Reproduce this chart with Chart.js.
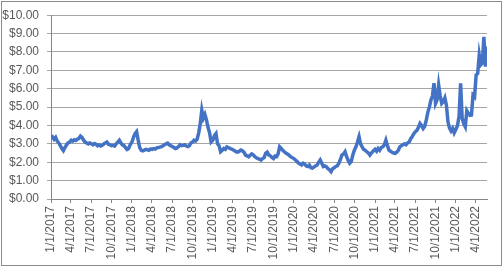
<!DOCTYPE html>
<html>
<head>
<meta charset="utf-8">
<script src="https://cdn.jsdelivr.net/npm/chart.js@4"></script>
<style>
  html, body { margin: 0; padding: 0; background: #fff; }
  #wrap { position: relative; width: 504px; height: 268px; }
  #frame { position: absolute; left: 1px; top: 1px; width: 499px; height: 263px; border: 1px solid #8c8c8c; pointer-events: none; }
</style>
</head>
<body>
<div id="wrap">
  <canvas id="priceChart" width="504" height="268"></canvas>
  <div id="frame"></div>
</div>
<script>
"use strict";

// x axis tick labels (quarter starts)
var tickLabels = ['1/1/2017', '4/1/2017', '7/1/2017', '10/1/2017',
    '1/1/2018', '4/1/2018', '7/1/2018', '10/1/2018',
    '1/1/2019', '4/1/2019', '7/1/2019', '10/1/2019',
    '1/1/2020', '4/1/2020', '7/1/2020', '10/1/2020',
    '1/1/2021', '4/1/2021', '7/1/2021', '10/1/2021',
    '1/1/2022', '4/1/2022'];

// weekly prices, each year starting on 1/1
var prices2017 = [3.30, 3.38, 3.25, 3.35, 3.15, 3.05, 2.90, 2.75, 2.63, 2.80, 2.95, 3.05, 3.10,
    3.20, 3.15, 3.22, 3.18, 3.25, 3.30, 3.42, 3.35, 3.20, 3.10, 3.05, 3.00,
    3.05, 3.00, 2.95, 3.02, 2.98, 2.90, 2.95, 2.88, 2.92, 3.00, 3.05, 3.10, 2.98,
    2.95, 2.90, 2.92, 2.88, 3.00, 3.10, 3.20, 3.05, 2.95, 2.90, 2.80, 2.70, 2.75, 2.95];
var prices2018 = [3.10, 3.35, 3.55, 3.66, 3.20, 2.80, 2.65, 2.62, 2.66, 2.70, 2.68, 2.65, 2.72,
    2.70, 2.74, 2.72, 2.78, 2.80, 2.82, 2.85, 2.90, 2.95, 3.00, 3.04, 2.95,
    2.90, 2.85, 2.80, 2.75, 2.78, 2.85, 2.95, 2.90, 2.92, 2.95, 2.88, 2.85, 2.90,
    3.05, 3.10, 3.20, 3.15, 3.25, 3.60, 4.10, 4.84, 4.40, 4.60, 4.30, 3.90, 3.60, 3.10];
var prices2019 = [3.20, 3.45, 3.56, 3.00, 2.90, 2.57, 2.65, 2.75, 2.70, 2.83, 2.80, 2.75, 2.72,
    2.68, 2.62, 2.57, 2.55, 2.60, 2.66, 2.62, 2.55, 2.39, 2.35, 2.30, 2.38,
    2.45, 2.40, 2.30, 2.25, 2.20, 2.17, 2.12, 2.20, 2.25, 2.48, 2.55, 2.40, 2.35,
    2.26, 2.20, 2.33, 2.30, 2.45, 2.84, 2.75, 2.65, 2.57, 2.50, 2.45, 2.39, 2.30];
var prices2020 = [2.20, 2.12, 2.05, 1.95, 1.90, 1.85, 1.95, 1.90, 1.80, 1.77, 1.85, 1.70, 1.68,
    1.75, 1.80, 1.85, 2.00, 2.12, 1.95, 1.77, 1.80, 1.75, 1.65, 1.59, 1.49,
    1.65, 1.70, 1.77, 1.80, 1.95, 2.15, 2.40, 2.45, 2.57, 2.30, 2.10, 1.95, 2.05,
    2.40, 2.66, 2.84, 3.10, 3.39, 3.00, 2.84, 2.70, 2.65, 2.57, 2.50, 2.39, 2.50, 2.60];
var prices2021 = [2.70, 2.60, 2.75, 2.65, 2.80, 2.84, 2.95, 3.20, 2.90, 2.66, 2.60, 2.55, 2.50,
    2.48, 2.55, 2.65, 2.84, 2.90, 2.95, 3.00, 2.95, 3.05, 3.10, 3.28, 3.40, 3.55,
    3.66, 3.73, 3.90, 4.11, 4.00, 3.84, 3.95, 4.29, 4.70, 5.00, 5.38, 5.60,
    6.30, 5.20, 5.40, 6.20, 5.60, 5.20, 5.30, 5.50, 5.10, 4.20, 3.86, 3.70, 3.84, 3.60];
var prices2022 = [3.80, 4.00, 4.50, 6.29, 4.40, 4.10, 3.93, 4.80, 4.66, 4.55, 4.57, 5.65, 5.56,
    6.74, 6.83, 7.83, 7.30, 7.40, 8.82, 7.20, 8.30];

var yearSeries = [
    { year: 2017, values: prices2017 },
    { year: 2018, values: prices2018 },
    { year: 2019, values: prices2019 },
    { year: 2020, values: prices2020 },
    { year: 2021, values: prices2021 },
    { year: 2022, values: prices2022 }
];

/* days since 1/1/2017 for an m/d/yyyy string */
var dayOf = function (s) {
    var p = s.split('/').map(Number);
    return (Date.UTC(p[2], p[0] - 1, p[1]) - Date.UTC(2017, 0, 1)) / 86400000;
};

var points = [];
for (var i = 0; i < yearSeries.length; i++) {
    var start = dayOf('1/1/' + yearSeries[i].year);
    for (var j = 0; j < yearSeries[i].values.length; j++) {
        points.push({ x: start + 7 * j, y: yearSeries[i].values[j] });
    }
}
var tickDays = tickLabels.map(dayOf);

Chart.defaults.font.family = "'Liberation Sans', Arial, sans-serif";
Chart.defaults.font.size = 12;
Chart.defaults.color = '#595959';

var ctx = document.getElementById("priceChart");
var priceChart = new Chart(ctx, {
    type: 'line',
    data: {
        datasets: [
            {
                "label": "price",
                "data": points,
                "borderColor": "#4472C4",
                "borderWidth": 3.5,
                "pointRadius": 0,
                "tension": 0,
                "fill": false
            }
        ]
    },
    options: {
        responsive: false,
        animation: false,
        layout: { padding: { left: 0, right: 17, top: 15, bottom: 0 } },
        plugins: { legend: { display: false }, tooltip: { enabled: false } },
        scales: {
            x: {
                type: 'linear',
                min: 0,
                max: points[points.length - 1].x,
                afterBuildTicks: function (scale) {
                    scale.ticks = tickDays.map(function (d) { return { value: d }; });
                },
                afterFit: function (scale) { scale.height = 69; },
                grid: { drawOnChartArea: false, drawTicks: true, tickLength: 4, color: '#868686' },
                border: { display: true, color: '#868686' },
                ticks: {
                    autoSkip: false,
                    minRotation: 90,
                    maxRotation: 90,
                    padding: 3,
                    callback: function (v, idx) { return tickLabels[idx]; }
                }
            },
            y: {
                min: 0,
                max: 10,
                afterFit: function (scale) { scale.width = 51; },
                grid: { color: '#a6a6a6', tickLength: 4 },
                border: { display: true, color: '#868686' },
                ticks: {
                    stepSize: 1,
                    padding: 8,
                    callback: function (v) { return '$' + Number(v).toFixed(2); }
                }
            }
        }
    }
});
</script>
</body>
</html>
